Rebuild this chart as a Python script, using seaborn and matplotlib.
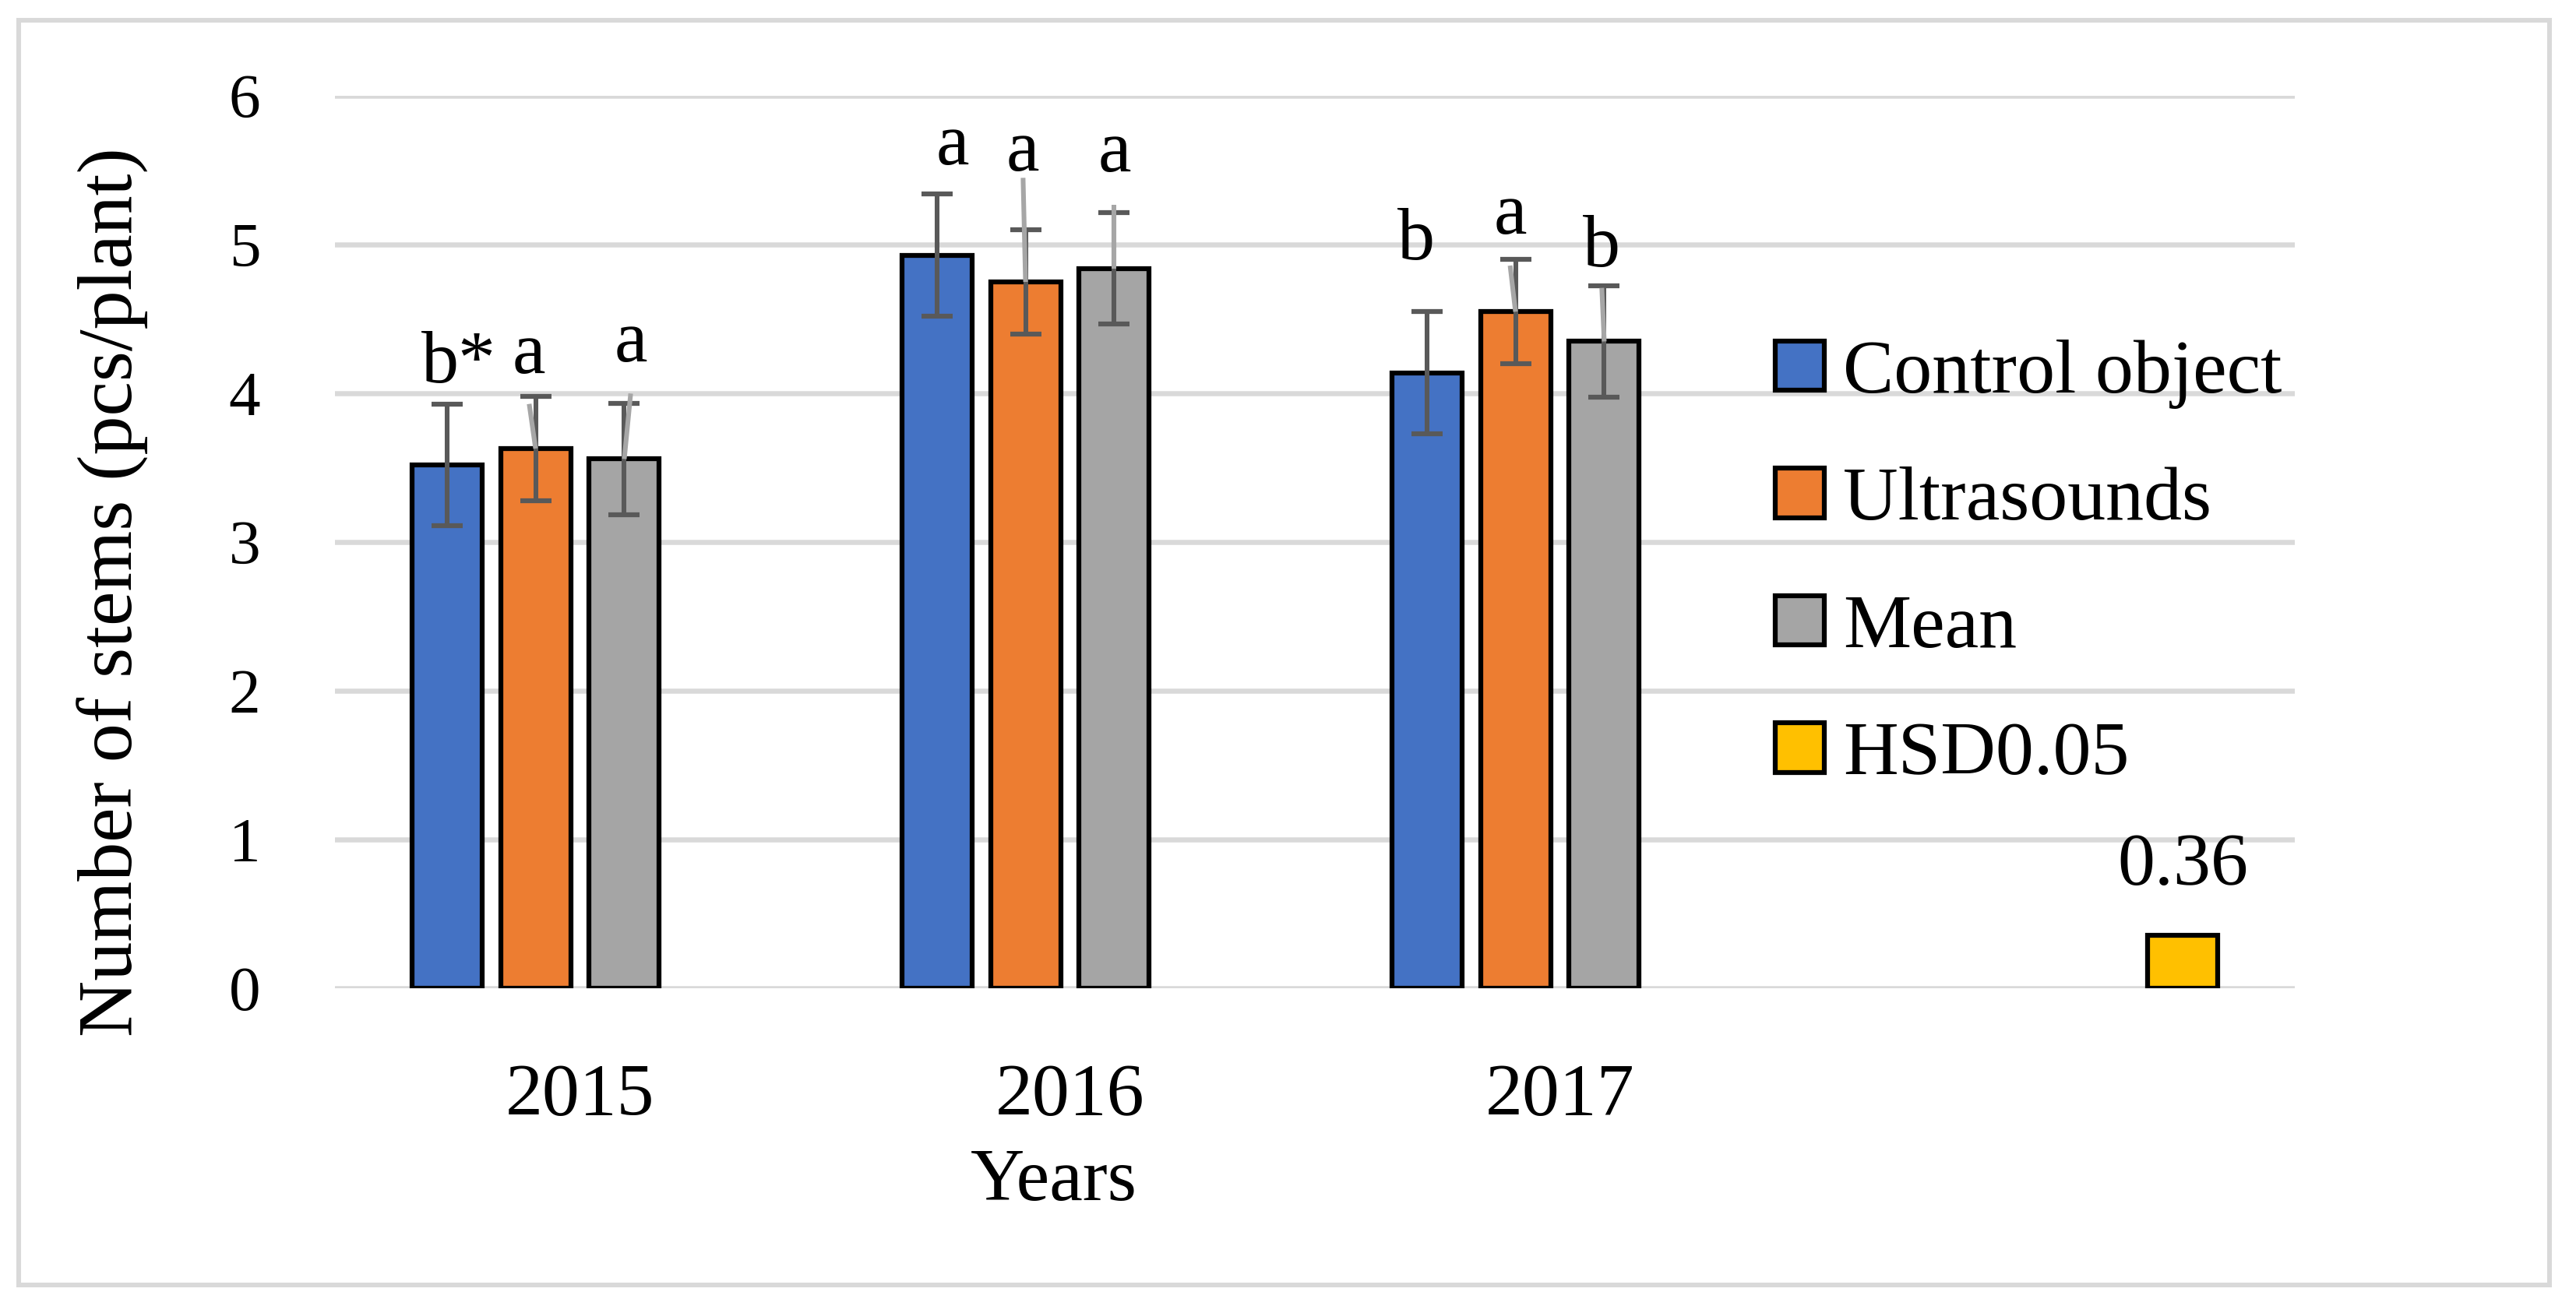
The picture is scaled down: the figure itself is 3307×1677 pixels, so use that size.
import matplotlib
matplotlib.use("Agg")
import matplotlib.pyplot as plt
import matplotlib.patches as mpatches
import seaborn as sns
import pandas as pd

# ---------------- data ----------------
years = ["2015", "2016", "2017", ""]
series = ["Control object", "Ultrasounds", "Mean", "HSD0.05"]
control = [3.52, 4.93, 4.14]
ultrasounds = [3.63, 4.75, 4.55]
mean_vals = [3.56, 4.84, 4.35]
hsd = [0.36]
control_err = [0.41, 0.41, 0.41]
ultra_err = [0.35, 0.35, 0.35]
mean_err = [0.375, 0.375, 0.375]
control_letters = ["b*", "a", "b"]
ultra_letters = ["a", "a", "a"]
mean_letters = ["a", "a", "b"]
hsd_label = "0.36"
colors = ["#4472C4", "#ED7D31", "#A5A5A5", "#FFC000"]

# ---------------- layout tweaks (label placement, data coords) ----------------
label_dx = {"Control object": [0.024, 0.033, -0.021],
            "Ultrasounds": [-0.013, -0.005, -0.011],
            "Mean": [0.013, 0.0, -0.005]}
label_y = {"Control object": [4.075, 5.54, 4.90],
           "Ultrasounds": [4.14, 5.50, 5.076],
           "Mean": [4.216, 5.495, 4.856]}
leader_top = {"Control object": [None, None, None],
              "Ultrasounds": [3.93, 5.45, 4.86],
              "Mean": [4.00, 5.27, 4.71]}

rows = []
for s, vals, errs, letters in [("Control object", control, control_err, control_letters),
                                ("Ultrasounds", ultrasounds, ultra_err, ultra_letters),
                                ("Mean", mean_vals, mean_err, mean_letters)]:
    for i, v in enumerate(vals):
        rows.append(dict(Year=years[i], Series=s, Value=v, Err=errs[i], Letter=letters[i], idx=i))
rows.append(dict(Year=years[3], Series="HSD0.05", Value=hsd[0], Err=0.0, Letter=hsd_label, idx=0))
df = pd.DataFrame(rows)

sns.set_theme(style="white")
plt.rcParams["font.family"] = ["Liberation Serif", "DejaVu Serif"]
plt.rcParams["text.color"] = "black"
plt.rcParams["xtick.color"] = "black"
plt.rcParams["ytick.color"] = "black"

W, H = 3307, 1677
fig = plt.figure(figsize=(W / 300, H / 300), dpi=300)
ax = fig.add_axes([430 / W, (H - 1269.3) / H, (2946 - 430) / W, (1269.3 - 123.3) / H])

sns.barplot(data=df, x="Year", y="Value", hue="Series", order=years, hue_order=series,
            palette=colors, width=0.7245, gap=0.21, edgecolor="black", linewidth=1.5,
            errorbar=None, legend=False, ax=ax, zorder=2, saturation=1)

ax.set_ylim(0, 6)
ax.set_xlim(-0.5, 3.5)
ax.set_yticks(range(0, 7))
ax.yaxis.grid(True, color="#D9D9D9", linewidth=1.56, zorder=0)
ax.xaxis.grid(False)
ax.set_axisbelow(True)
for sp in ax.spines.values():
    sp.set_visible(False)
ax.tick_params(axis="both", length=0, pad=23, colors="black")
ax.tick_params(axis="y", labelsize=19.5)
ax.tick_params(axis="x", labelsize=23)
ax.set_xlabel("")
ax.set_ylabel("")

# map bar patches to data rows via heights
val_lookup = {round(r.Value, 3): r for r in df.itertuples()}
for p in ax.patches:
    h = round(p.get_height(), 3)
    if h not in val_lookup:
        continue
    r = val_lookup[h]
    xc = p.get_x() + p.get_width() / 2
    if r.Series == "HSD0.05":
        ax.text(xc, 0.70, r.Letter, ha="center", va="baseline", fontsize=23, zorder=5,
                color="black")
        continue
    ax.errorbar(xc, r.Value, yerr=r.Err, fmt="none", ecolor="#595959", elinewidth=1.45,
                capsize=4.7, capthick=1.5, zorder=3)
    lx = xc + label_dx[r.Series][r.idx]
    ly = label_y[r.Series][r.idx]
    ax.text(lx, ly, r.Letter, ha="center", va="baseline", fontsize=23, zorder=5, color="black")
    lt = leader_top[r.Series][r.idx]
    if lt is not None:
        ax.plot([lx, xc], [lt, r.Value], color="#A6A6A6", linewidth=1.45, zorder=4,
                solid_capstyle="butt")

# legend
handles = [mpatches.Patch(facecolor=c, edgecolor="black", linewidth=1.5) for c in colors]
leg = fig.legend(handles, series, loc="upper left", bbox_to_anchor=(2279 / W, 1 - 436 / H),
                 bbox_transform=fig.transFigure, frameon=False, fontsize=23.5,
                 handlelength=0.64, handleheight=0.62, handletextpad=0.25, labelspacing=0.76,
                 borderpad=0, borderaxespad=0)
for t in leg.get_texts():
    t.set_color("black")

# axis titles
fig.text(145 / W, 1 - 760 / H, "Number of stems (pcs/plant)", rotation=90,
         ha="center", va="center", fontsize=24, color="black")
fig.text(1353 / W, 1 - 1541 / H, "Years", ha="center", va="baseline", fontsize=23,
         color="black")

# outer chart border
fig.patches.append(mpatches.Rectangle((24 / W, 1 - 1650 / H), (3273 - 24) / W, (1650 - 26) / H,
                                      transform=fig.transFigure, fill=False,
                                      edgecolor="#D9D9D9", linewidth=1.45))

fig.savefig("out.png", dpi=300)
